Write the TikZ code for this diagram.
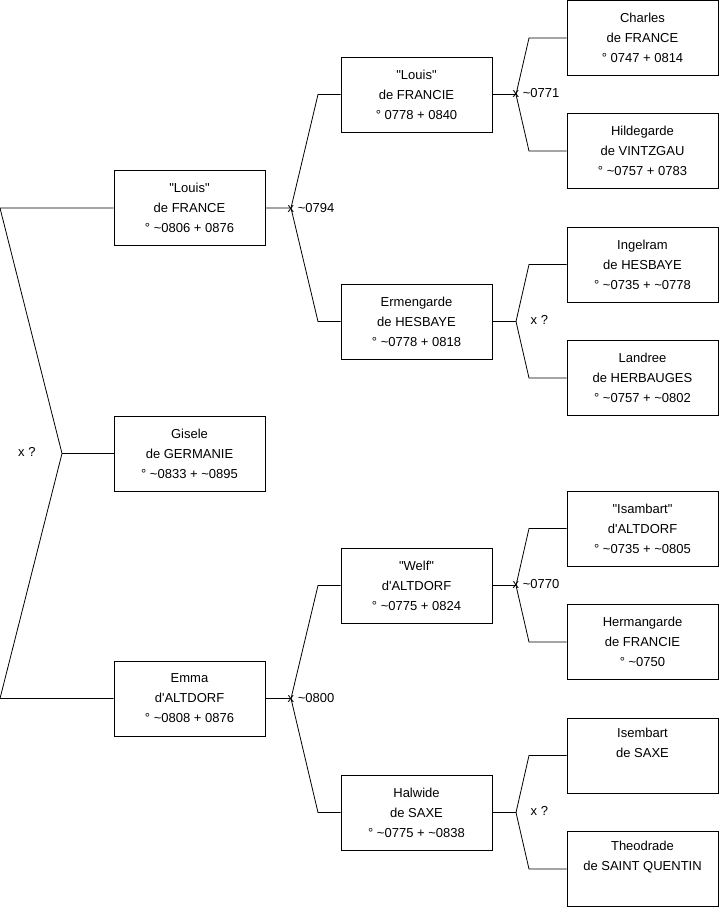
\documentclass[tikz,border=0pt]{standalone}
\usepackage{fontspec}
\setmainfont{Liberation Sans}[Ligatures=TeXOff]
\newcommand{\dq}{\symbol{34}}
\newcommand{\sq}{\symbol{39}}
\begin{document}
\begin{tikzpicture}[x=1pt,y=-1pt,
  pbox/.style={draw=black, line width=0.9pt, minimum width=151pt, minimum height=75pt, inner sep=0pt,
    align=center, font=\fontsize{13}{20}\selectfont},
  conn/.style={draw=black, line width=0.8pt},
  lbl/.style={font=\fontsize{13}{15}\selectfont, inner sep=0pt, anchor=west}]
\useasboundingbox (0,0) rectangle (719,908);
% level 1
\node[pbox] (lfr) at (189.5,208) {\dq Louis\dq\\de FRANCE\\° \textasciitilde0806 + 0876};
\node[pbox] (gis) at (189.5,453.5) {Gisele\\de GERMANIE\\° \textasciitilde0833 + \textasciitilde0895};
\node[pbox] (emm) at (189.5,698.5) {Emma\\d\sq ALTDORF\\° \textasciitilde0808 + 0876};
% level 2
\node[pbox] (lfc) at (416.5,94.5) {\dq Louis\dq\\de FRANCIE\\° 0778 + 0840};
\node[pbox] (erm) at (416.5,321.5) {Ermengarde\\de HESBAYE\\° \textasciitilde0778 + 0818};
\node[pbox] (wel) at (416.5,585.5) {\dq Welf\dq\\d\sq ALTDORF\\° \textasciitilde0775 + 0824};
\node[pbox] (hal) at (416.5,812.5) {Halwide\\de SAXE\\° \textasciitilde0775 + \textasciitilde0838};
% level 3
\node[pbox] (cha) at (642.5,38) {Charles\\de FRANCE\\° 0747 + 0814};
\node[pbox] (hil) at (642.5,151) {Hildegarde\\de VINTZGAU\\° \textasciitilde0757 + 0783};
\node[pbox] (ing) at (642.5,264.5) {Ingelram\\de HESBAYE\\° \textasciitilde0735 + \textasciitilde0778};
\node[pbox] (lan) at (642.5,378) {Landree\\de HERBAUGES\\° \textasciitilde0757 + \textasciitilde0802};
\node[pbox] (isa) at (642.5,528.5) {\dq Isambart\dq\\d\sq ALTDORF\\° \textasciitilde0735 + \textasciitilde0805};
\node[pbox] (her) at (642.5,642) {Hermangarde\\de FRANCIE\\° \textasciitilde0750};
\node[pbox] (ise) at (642.5,755.5) {Isembart\\de SAXE\\\strut};
\node[pbox] (the) at (642.5,869) {Theodrade\\de SAINT QUENTIN\\\strut};
% junction coordinates
\coordinate (j0) at (62,453.5);
\coordinate (a0) at (0,208);
\coordinate (b0) at (0,698.5);
\coordinate (j1) at (291,208);
\coordinate (j2) at (291,698.5);
\coordinate (j3) at (516,94.5);
\coordinate (j4) at (516,321.5);
\coordinate (j5) at (516,585.5);
\coordinate (j6) at (516,812.5);
% connectors
\draw[conn] (lfr.west) -- (a0) -- (j0);
\draw[conn] (j0) -- (b0) -- (emm.west);
\draw[conn] (j0) -- (gis.west);
\draw[conn] (lfr.east) -- (j1) -- (318,94.5) -- (lfc.west);
\draw[conn] (j1) -- (318,321.5) -- (erm.west);
\draw[conn] (emm.east) -- (j2) -- (318,585.5) -- (wel.west);
\draw[conn] (j2) -- (318,812.5) -- (hal.west);
\draw[conn] (lfc.east) -- (j3) -- (529,38) -- (cha.west);
\draw[conn] (j3) -- (529,151) -- (hil.west);
\draw[conn] (erm.east) -- (j4) -- (529,264.5) -- (ing.west);
\draw[conn] (j4) -- (529,378) -- (lan.west);
\draw[conn] (wel.east) -- (j5) -- (529,528.5) -- (isa.west);
\draw[conn] (j5) -- (529,642) -- (her.west);
\draw[conn] (hal.east) -- (j6) -- (529,755.5) -- (ise.west);
\draw[conn] (j6) -- (529,869) -- (the.west);
% labels
\node[lbl] (l0) at (18,452) {x ?};
\node[lbl] (l1) at (287.5,208) {x \textasciitilde0794};
\node[lbl] (l2) at (287.5,698) {x \textasciitilde0800};
\node[lbl] (l3) at (512.5,93) {x \textasciitilde0771};
\node[lbl] (l4) at (530.5,320) {x ?};
\node[lbl] (l5) at (512.5,584) {x \textasciitilde0770};
\node[lbl] (l6) at (530.5,811) {x ?};
\end{tikzpicture}
\end{document}
